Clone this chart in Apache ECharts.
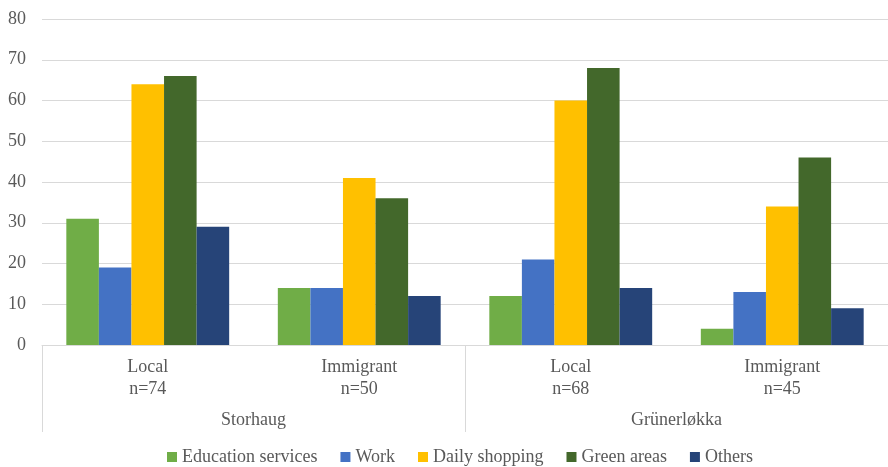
<!DOCTYPE html>
<html>
<head>
<meta charset="utf-8">
<script src="https://cdn.jsdelivr.net/npm/echarts@6/dist/echarts.min.js"></script>
<style>
  html, body { margin: 0; padding: 0; background: #fff; }
  #chart { width: 888px; height: 467px; }
</style>
</head>
<body>
<div id="chart"></div>
<script>
// categories (first level) and groups (second level)
var categories = ['Local\nn=74', 'Immigrant\nn=50', 'Local\nn=68', 'Immigrant\nn=45'];
var groups = ['Storhaug', 'Grünerløkka'];

// values per purpose
var education = [31, 14, 12, 4];
var work = [19, 14, 21, 13];
var dailyShopping = [64, 41, 60, 34];
var greenAreas = [66, 36, 68, 46];
var others = [29, 12, 14, 9];

var seriesNames = ['Education services', 'Work', 'Daily shopping', 'Green areas', 'Others'];
var seriesData = [education, work, dailyShopping, greenAreas, others];
var colors = ['#70AD47', '#4472C4', '#FFC000', '#43682B', '#264478'];

var yTicks = { min: 0, max: 80, interval: 10 };

var font = '"Liberation Serif", "Times New Roman", serif';
var textColor = '#595959';

var chart = echarts.init(document.getElementById('chart'));

var series = seriesNames.map(function (name, i) {
    return {
        name: name,
        type: 'bar',
        xAxisIndex: 0,
        barGap: '0%',
        barCategoryGap: '23%',
        itemStyle: { color: colors[i] },
        data: seriesData[i]
    };
});

var option = {
    animation: false,
    color: colors,
    textStyle: { fontFamily: font },
    grid: {
        left: 42,
        right: 0,
        top: 19,
        bottom: 122
    },
    legend: {
        top: 443,
        left: 162,
        icon: 'rect',
        itemWidth: 10,
        itemHeight: 10,
        itemGap: 23,
        textStyle: { color: textColor, fontSize: 18, fontFamily: font },
        data: seriesNames
    },
    xAxis: [
        {
            type: 'category',
            data: categories,
            axisLine: { show: true, lineStyle: { color: '#D9D9D9' } },
            axisTick: { show: false },
            axisLabel: {
                color: textColor,
                fontSize: 18,
                fontFamily: font,
                lineHeight: 22,
                margin: 11
            }
        },
        {
            type: 'category',
            data: groups,
            position: 'bottom',
            axisLine: { show: false },
            axisTick: { show: true, length: 87, lineStyle: { color: '#D9D9D9' } },
            axisLabel: {
                color: textColor,
                fontSize: 18,
                fontFamily: font,
                lineHeight: 22,
                margin: 64
            }
        }
    ],
    yAxis: {
        type: 'value',
        min: yTicks.min,
        max: yTicks.max,
        interval: yTicks.interval,
        axisLine: { show: false },
        axisTick: { show: false },
        axisLabel: {
            color: textColor,
            fontSize: 18,
            fontFamily: font,
            margin: 16
        },
        splitLine: { lineStyle: { color: '#D9D9D9' } }
    },
    series: series
};

chart.setOption(option);
</script>
</body>
</html>
